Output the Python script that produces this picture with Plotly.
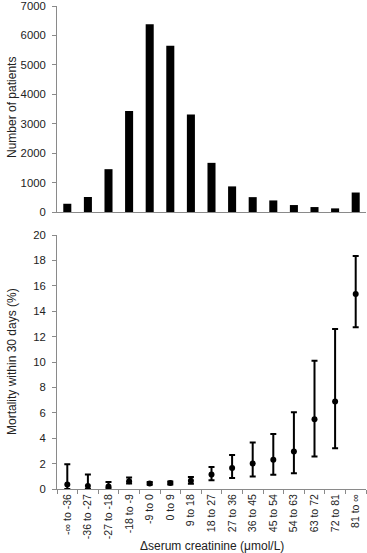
import plotly.graph_objects as go

categories = ["-\u221e to -36", "-36 to -27", "-27 to -18", "-18 to -9", "-9 to 0", "0 to 9",
              "9 to 18", "18 to 27", "27 to 36", "36 to 45", "45 to 54", "54 to 63",
              "63 to 72", "72 to 81", "81 to \u221e"]
patients = [280, 510, 1455, 3430, 6380, 5650, 3310, 1670, 870, 505, 393, 236, 168, 123, 662]
mortality = [0.36, 0.23, 0.20, 0.62, 0.44, 0.47, 0.65, 1.14, 1.66, 2.00, 2.31, 2.96, 5.49, 6.88, 15.35]
ci_upper = [1.95, 1.14, 0.55, 0.90, 0.55, 0.60, 0.94, 1.74, 2.68, 3.67, 4.33, 6.04, 10.10, 12.60, 18.35]
ci_lower = [0.00, 0.00, 0.05, 0.44, 0.34, 0.36, 0.42, 0.68, 0.86, 0.99, 1.12, 1.25, 2.55, 3.20, 12.73]

W, H = 367, 553
err_plus = [u - m for u, m in zip(ci_upper, mortality)]
err_minus = [m - l for m, l in zip(mortality, ci_lower)]

fig = go.Figure()
fig.add_trace(go.Bar(x=categories, y=patients, marker=dict(color="black", line=dict(width=0)),
                     width=0.39, xaxis="x", yaxis="y", showlegend=False))
fig.add_trace(go.Scatter(x=categories, y=mortality, mode="markers",
                         marker=dict(color="black", size=6),
                         error_y=dict(type="data", symmetric=False, array=err_plus, arrayminus=err_minus,
                                      color="black", thickness=2, width=3),
                         xaxis="x2", yaxis="y2", showlegend=False))

fam = "Liberation Sans, Arial, sans-serif"
txtcol = "#222222"
font = dict(family=fam, size=11.3, color=txtcol)
axcol = "#8a8a8a"
xdom = [57 / W, 366 / W]

fig.update_layout(
    width=W, height=H, margin=dict(l=0, r=0, t=0, b=0),
    paper_bgcolor="white", plot_bgcolor="white", font=font,
    xaxis=dict(domain=xdom, anchor="y", type="category", categoryorder="array", categoryarray=categories,
               showticklabels=False, showline=True, linecolor=axcol, linewidth=1, ticks="",
               showgrid=False, zeroline=False, range=[-0.5, 14.5], automargin=False),
    yaxis=dict(domain=[1 - 212 / H, 1 - 6 / H], anchor="x", range=[0, 7000], dtick=1000,
               showline=True, linecolor=axcol, linewidth=1, ticks="outside", ticklen=4, tickcolor=axcol,
               ticklabelstandoff=4, ticklabeloverflow="allow",
               showgrid=False, zeroline=False, automargin=False, tickfont=font),
    xaxis2=dict(domain=xdom, anchor="y2", type="category", categoryorder="array", categoryarray=categories,
                showline=True, linecolor=axcol, linewidth=1, ticks="outside", tickson="boundaries",
                ticklen=4, tickcolor=axcol, tickangle=-90, showgrid=False, zeroline=False,
                ticklabeloverflow="allow",
                range=[-0.5, 14.5], automargin=False, tickfont=dict(family=fam, size=10.5, color=txtcol)),
    yaxis2=dict(domain=[1 - 489 / H, 1 - 235 / H], anchor="x2", range=[0, 20], dtick=2,
                showline=True, linecolor=axcol, linewidth=1, ticks="outside", ticklen=4, tickcolor=axcol,
                ticklabelstandoff=4, ticklabeloverflow="allow",
                showgrid=False, zeroline=False, automargin=False, tickfont=font),
    annotations=[
        dict(text="Number of patients", x=12 / W, y=1 - 108 / H, xref="paper", yref="paper",
             xanchor="center", yanchor="middle",
             textangle=-90, showarrow=False, font=dict(family=fam, size=12, color=txtcol)),
        dict(text="Mortality within 30 days (%)", x=12 / W, y=1 - 362 / H, xref="paper", yref="paper",
             xanchor="center", yanchor="middle",
             textangle=-90, showarrow=False, font=dict(family=fam, size=12, color=txtcol)),
        dict(text="\u0394serum creatinine (\u03bcmol/L)", x=(57 + 366) / 2 / W, y=1 - 546 / H,
             xref="paper", yref="paper", showarrow=False, xanchor="center", yanchor="middle",
             font=dict(family=fam, size=12, color=txtcol)),
    ],
)

fig.write_html("out.html", config={"displayModeBar": False},
               post_script="document.body.style.margin='0';document.body.style.overflow='hidden';")
